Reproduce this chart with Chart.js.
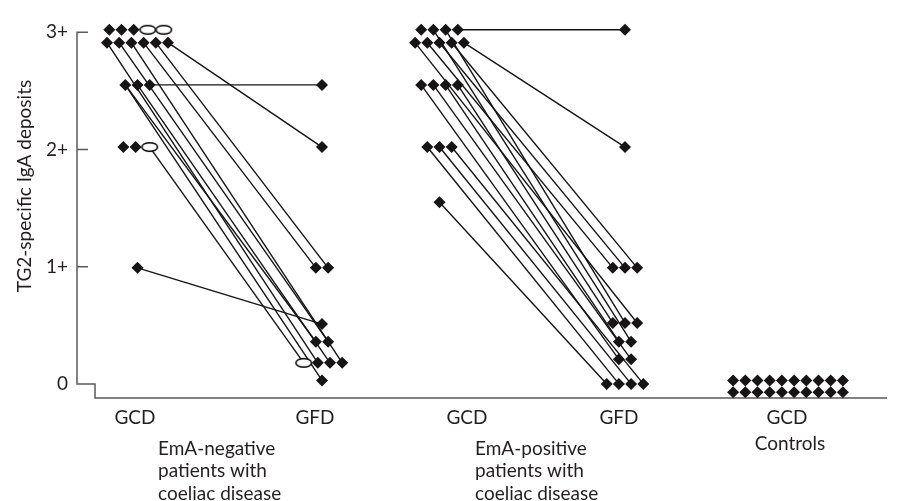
<!DOCTYPE html>
<html><head><meta charset="utf-8">
<script src="https://cdn.jsdelivr.net/npm/chart.js@4"></script>
<style>html,body{margin:0;padding:0;background:#fff}#wrap{width:901px;height:501px;position:relative}</style>
</head><body><div id="wrap"><canvas id="c"></canvas></div>
<script>
// ---- data ----
const yTickValues = [0, 1, 2, 3];
const yTickLabels = ['0', '1+', '2+', '3+'];
const yTitle = 'TG2-specific IgA deposits';
const columnLabels = ['GCD', 'GFD', 'GCD', 'GFD', 'GCD'];
const groupLabels = [
  ['EmA-negative', 'patients with', 'coeliac disease'],
  ['EmA-positive', 'patients with', 'coeliac disease'],
  ['Controls']
];

// EmA-negative patients
const negGCD = [3.02, 3.02, 3.02, 3.02, 3.02, 2.91, 2.91, 2.91, 2.91, 2.91, 2.91, 2.55, 2.55, 2.55, 2.02, 2.02, 2.02, 0.99];
const negGCDOpen = [0, 0, 0, 1, 1, 0, 0, 0, 0, 0, 0, 0, 0, 0, 0, 0, 1, 0];
const negGFD = [2.55, 2.02, 0.99, 0.99, 0.51, 0.36, 0.36, 0.18, 0.18, 0.18, 0.18, 0.03];
const negGFDOpen = [0, 0, 0, 0, 0, 0, 0, 1, 0, 0, 0, 0];
const negLinks = [[13, 0], [10, 1], [8, 2], [9, 3], [17, 4], [11, 5], [6, 6], [16, 7], [5, 8], [12, 9], [7, 10], [11, 11]];

// EmA-positive patients
const posGCD = [3.02, 3.02, 3.02, 3.02, 2.91, 2.91, 2.91, 2.91, 2.91, 2.55, 2.55, 2.55, 2.55, 2.02, 2.02, 2.02, 1.55];
const posGCDOpen = posGCD.map(() => 0);
const posGFD = [3.02, 2.02, 0.99, 0.99, 0.99, 0.52, 0.52, 0.52, 0.36, 0.36, 0.21, 0.21, 0.0, 0.0, 0.0, 0.0];
const posGFDOpen = posGFD.map(() => 0);
const posLinks = [[3, 0], [8, 1], [5, 2], [6, 3], [7, 4], [12, 5], [2, 6], [4, 7], [11, 8], [1, 9], [9, 10], [10, 11], [16, 12], [13, 13], [14, 14], [15, 15]];

// Controls
const ctrlGCD = [0.03, 0.03, 0.03, 0.03, 0.03, 0.03, 0.03, 0.03, 0.03, 0.03,
                 -0.07, -0.07, -0.07, -0.07, -0.07, -0.07, -0.07, -0.07, -0.07, -0.07];
const ctrlGCDOpen = ctrlGCD.map(() => 0);

// ---- layout (x scale units, 1 unit ~ 1 px) ----
const LAYOUT = {
  xMax: 810,
  colCenter: [60.5, 245, 362.5, 548, 711],
  labelX: [58, 238, 390, 542, 710],
  groupTextX: [81, 398, 713],
  diamondW: 12.2,
  ellipseW: 16
};
const INK = '#161414';
const TEXT = '#231f20';
const AXIS = '#5a5a5a';
const FONT = 'Lato';
const FS = 19;

function ellipseMarker() {
  const c = document.createElement('canvas');
  c.width = 19; c.height = 12;
  const g = c.getContext('2d');
  g.beginPath();
  g.ellipse(9.5, 6, 7.8, 4.3, 0, 0, Math.PI * 2);
  g.fillStyle = '#fff'; g.fill();
  g.lineWidth = 1.5; g.strokeStyle = '#000'; g.stroke();
  return c;
}
const ELL = ellipseMarker();

// spread points with equal values horizontally around the column center
function layoutColumn(values, open, cx) {
  const xs = new Array(values.length);
  const seen = [];
  values.forEach((v) => { if (!seen.includes(v)) seen.push(v); });
  seen.forEach((v) => {
    const idx = values.map((u, i) => u === v ? i : -1).filter(i => i >= 0);
    const ws = idx.map(i => open[i] ? LAYOUT.ellipseW : LAYOUT.diamondW);
    const total = ws.reduce((a, b) => a + b, 0);
    let cur = cx - total / 2;
    idx.forEach((i, k) => { xs[i] = cur + ws[k] / 2; cur += ws[k]; });
  });
  return values.map((v, i) => ({ x: xs[i], y: v }));
}

const cols = [
  { pts: layoutColumn(negGCD, negGCDOpen, LAYOUT.colCenter[0]), open: negGCDOpen },
  { pts: layoutColumn(negGFD, negGFDOpen, LAYOUT.colCenter[1]), open: negGFDOpen },
  { pts: layoutColumn(posGCD, posGCDOpen, LAYOUT.colCenter[2]), open: posGCDOpen },
  { pts: layoutColumn(posGFD, posGFDOpen, LAYOUT.colCenter[3]), open: posGFDOpen },
  { pts: layoutColumn(ctrlGCD, ctrlGCDOpen, LAYOUT.colCenter[4]), open: ctrlGCDOpen }
];

const datasets = [];
function addLinks(links, a, b) {
  links.forEach(([i, j]) => {
    datasets.push({
      type: 'line', order: 2,
      data: [cols[a].pts[i], cols[b].pts[j]],
      borderColor: INK, borderWidth: 1.4, pointRadius: 0, fill: false, tension: 0
    });
  });
}
addLinks(negLinks, 0, 1);
addLinks(posLinks, 2, 3);
cols.forEach((c) => {
  datasets.push({
    type: 'scatter', order: 0,
    data: c.pts,
    pointStyle: c.open.map(o => o ? ELL : 'rectRot'),
    pointRadius: 6, pointHoverRadius: 6,
    backgroundColor: INK, borderWidth: 0
  });
});

const axesPlugin = {
  id: 'axesPlugin',
  beforeDatasetsDraw(chart) {
    const { ctx, chartArea } = chart;
    const ys = chart.scales.y;
    const left = chartArea.left;
    const y0 = ys.getPixelForValue(0), y3 = ys.getPixelForValue(3);
    const bottom = chartArea.bottom;
    ctx.save();
    ctx.strokeStyle = AXIS; ctx.lineWidth = 1.5; ctx.lineCap = 'butt';
    ctx.beginPath();
    ctx.moveTo(left, y3); ctx.lineTo(left, y0);
    yTickValues.forEach(v => {
      if (v === 0) return;
      const y = ys.getPixelForValue(v);
      ctx.moveTo(left - 0.75, y); ctx.lineTo(left + 11, y);
    });
    ctx.moveTo(left - 0.75, y0); ctx.lineTo(left + 18, y0); ctx.lineTo(left + 18, bottom); ctx.lineTo(chartArea.right, bottom);
    ctx.stroke();
    ctx.restore();
  },
  afterDraw(chart) {
    const { ctx } = chart;
    const xs = chart.scales.x, ys = chart.scales.y;
    ctx.save();
    ctx.fillStyle = TEXT;
    ctx.font = FS + 'px ' + FONT;
    ctx.textBaseline = 'alphabetic';
    // group labels
    ctx.textAlign = 'left';
    [0, 1].forEach(g => {
      const x = xs.getPixelForValue(LAYOUT.groupTextX[g]);
      groupLabels[g].forEach((line, k) => ctx.fillText(line, x, 455 + k * 22.4));
    });
    ctx.textAlign = 'center';
    ctx.fillText(groupLabels[2][0], xs.getPixelForValue(LAYOUT.groupTextX[2]), 450);
    // y title
    ctx.translate(25, (ys.getPixelForValue(3) + ys.getPixelForValue(0)) / 2 - 22);
    ctx.rotate(-Math.PI / 2);
    ctx.textAlign = 'center'; ctx.textBaseline = 'middle';
    ctx.fillText(yTitle, 0, 0);
    ctx.restore();
  }
};

new Chart(document.getElementById('c'), {
  data: { datasets },
  options: {
    responsive: true, maintainAspectRatio: false, animation: false, events: [],
    layout: { padding: { top: 10, right: 14, left: 0, bottom: 0 } },
    plugins: { legend: { display: false }, tooltip: { enabled: false } },
    scales: {
      x: {
        type: 'linear', min: 0, max: LAYOUT.xMax,
        grid: { display: false, drawTicks: false }, border: { display: false },
        afterBuildTicks: (s) => { s.ticks = LAYOUT.labelX.map(v => ({ value: v })); },
        afterFit: (s) => { s.height = 103; },
        ticks: {
          autoSkip: false, maxRotation: 0, padding: 8, color: TEXT,
          font: { family: FONT, size: FS },
          callback: (v, i) => columnLabels[i]
        }
      },
      y: {
        type: 'linear', min: -0.12, max: 3.10,
        grid: { display: false, drawTicks: false }, border: { display: false },
        afterBuildTicks: (s) => { s.ticks = yTickValues.map(v => ({ value: v })); },
        afterFit: (s) => { s.width = 77; },
        ticks: {
          autoSkip: false, padding: 9, color: TEXT,
          font: { family: FONT, size: FS },
          callback: (v, i) => yTickLabels[i]
        }
      }
    }
  },
  plugins: [axesPlugin]
});
</script></body></html>
